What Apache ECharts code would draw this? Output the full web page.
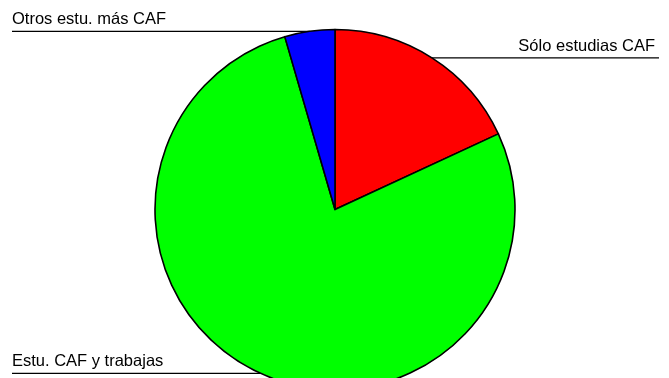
<!DOCTYPE html>
<html>
<head>
<meta charset="utf-8">
<script src="https://cdn.jsdelivr.net/npm/echarts@6/dist/echarts.min.js"></script>
<style>html,body{margin:0;padding:0;background:#fff;}#c{width:669px;height:378px;}</style>
</head>
<body>
<div id="c"></div>
<script>
var categories = ['Sólo estudias CAF', 'Estu. CAF y trabajas', 'Otros estu. más CAF'];
var values = [18.1, 77.4, 4.5];
var colors = ['#ff0000', '#00ff00', '#0000ff'];

var chart = echarts.init(document.getElementById('c'), null, {renderer: 'canvas'});
var CX = 335, CY = 209.5;
var data = categories.map(function (n, i) {
  return {name: n, value: values[i], itemStyle: {color: colors[i]}};
});
chart.setOption({
  animation: false,
  backgroundColor: '#ffffff',
  series: [{
    type: 'pie',
    center: [CX, CY],
    radius: 180,
    startAngle: 90,
    clockwise: true,
    avoidLabelOverlap: false,
    emphasis: {disabled: true},
    itemStyle: {borderColor: '#000', borderWidth: 1.6},
    label: {
      show: true,
      position: 'outside',
      formatter: '{b}',
      color: '#000',
      fontFamily: 'Liberation Sans, Arial, sans-serif',
      fontSize: 16.5
    },
    labelLine: {
      show: true,
      length: 0,
      length2: 10,
      smooth: false,
      lineStyle: {color: '#000', width: 1.3}
    },
    labelLayout: function (params) {
      var p = params.labelLinePoints;
      if (!p || !p.length) return {};
      var start = p[0];
      var right = start[0] > CX;
      var W = chart.getWidth();
      var endX = right ? W - 10 : 12;
      return {
        x: right ? W - 14 : 12,
        y: start[1] - 3,
        align: right ? 'right' : 'left',
        verticalAlign: 'bottom',
        labelLinePoints: [[start[0], start[1]], [start[0], start[1]], [endX, start[1]]]
      };
    },
    data: data
  }]
});
</script>
</body>
</html>
